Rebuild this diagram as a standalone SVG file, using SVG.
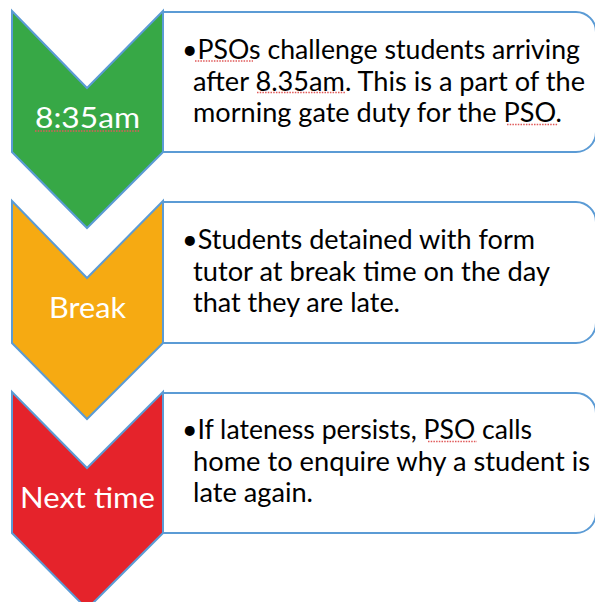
<svg xmlns="http://www.w3.org/2000/svg" width="595" height="602" viewBox="0 0 595 602">
<style>
.box{fill:#fff;stroke:#5B9BD5;stroke-width:2}
.chev{stroke:#5B9BD5;stroke-width:2;stroke-linejoin:miter}
.lbl{font-family:Lato,"Liberation Sans",sans-serif;font-size:28px;fill:#fff;text-anchor:middle}
.txt{font-family:Lato,"Liberation Sans",sans-serif;font-size:26px;fill:#000}
.sq{stroke:#E05A5A;stroke-width:1.3;stroke-dasharray:1.5 1.2;fill:none}
</style>
<rect width="595" height="602" fill="#fff"/>
<g id="step1">
<path class="box" d="M163,12 H576 A20,20 0 0 1 596,32 V132 A20,20 0 0 1 576,152 H163 Z"/>
<path class="chev" fill="#37A846" d="M12,11 L87,88 L163,11 L163,152 L87,228 L12,152 Z"/>
<text class="lbl" x="87.5" y="128" textLength="105" lengthAdjust="spacingAndGlyphs">8:35am</text>
<text class="txt" x="182" y="59" textLength="398" lengthAdjust="spacingAndGlyphs">•PSOs challenge students arriving</text>
<text class="txt" x="193" y="90.5" textLength="392" lengthAdjust="spacingAndGlyphs">after 8.35am. This is a part of the</text>
<text class="txt" x="193" y="122" textLength="369" lengthAdjust="spacingAndGlyphs">morning gate duty for the PSO.</text>
<line class="sq" x1="35" y1="131" x2="140" y2="131"/>
<line class="sq" x1="195" y1="61" x2="253" y2="61"/>
<line class="sq" x1="257" y1="92.5" x2="345" y2="92.5"/>
<line class="sq" x1="507" y1="124.5" x2="558" y2="124.5"/>
</g>
<g id="step2">
<path class="box" d="M163,202 H576 A20,20 0 0 1 596,222 V323 A20,20 0 0 1 576,343 H163 Z"/>
<path class="chev" fill="#F6AA12" d="M12,201 L87,278 L163,201 L163,343 L87,419 L12,343 Z"/>
<text class="lbl" x="87.5" y="318" textLength="77" lengthAdjust="spacingAndGlyphs">Break</text>
<text class="txt" x="182" y="249" textLength="353" lengthAdjust="spacingAndGlyphs">•Students detained with form</text>
<text class="txt" x="193" y="280.5" textLength="357" lengthAdjust="spacingAndGlyphs">tutor at break time on the day</text>
<text class="txt" x="193" y="312" textLength="207" lengthAdjust="spacingAndGlyphs">that they are late.</text>
</g>
<g id="step3">
<path class="box" d="M163,393 H576 A20,20 0 0 1 596,413 V513 A20,20 0 0 1 576,533 H163 Z"/>
<path class="chev" fill="#E5232B" d="M12,392 L87,468 L163,392 L163,533 L87,609 L12,533 Z"/>
<text class="lbl" x="87.5" y="508" textLength="135" lengthAdjust="spacingAndGlyphs">Next time</text>
<text class="txt" x="182" y="439" textLength="350" lengthAdjust="spacingAndGlyphs">•If lateness persists, PSO calls</text>
<text class="txt" x="193" y="470.5" textLength="397" lengthAdjust="spacingAndGlyphs">home to enquire why a student is</text>
<text class="txt" x="193" y="502" textLength="120" lengthAdjust="spacingAndGlyphs">late again.</text>
<line class="sq" x1="428" y1="441.5" x2="477" y2="441.5"/>
</g>
<g id="connectors"></g>
</svg>
